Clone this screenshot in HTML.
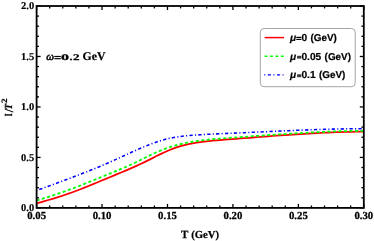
<!DOCTYPE html>
<html><head><meta charset="utf-8"><title>plot</title>
<style>
html,body{margin:0;padding:0;background:#fff;}
body{width:374px;height:241px;overflow:hidden;font-family:"Liberation Serif",serif;}
svg{display:block;will-change:transform;}
svg text{text-rendering:geometricPrecision;}
.tk text{font-family:"Liberation Serif",serif;font-weight:bold;font-size:10.75px;fill:#000;stroke:#000;stroke-width:0.25px;}
.lg text{font-family:"Liberation Sans",sans-serif;font-weight:bold;font-size:10.2px;fill:#000;stroke:#000;stroke-width:0.2px;}
</style></head><body>
<svg width="374" height="241" viewBox="0 0 374 241">
<rect x="0" y="0" width="374" height="241" fill="#fff"/>
<g fill="none" stroke-width="1.75" stroke-linecap="butt" stroke-linejoin="round">
<path d="M36.5,203.40 L40.5,202.30 L44.5,201.17 L48.5,200.01 L52.5,198.82 L56.5,197.59 L60.5,196.32 L64.5,195.00 L68.5,193.64 L72.5,192.22 L76.5,190.75 L80.5,189.22 L84.5,187.64 L88.5,186.02 L92.5,184.36 L96.5,182.69 L100.5,181.02 L104.5,179.36 L108.5,177.71 L112.5,176.07 L116.5,174.43 L120.5,172.77 L124.5,171.10 L128.5,169.40 L132.5,167.65 L136.5,165.86 L140.5,164.02 L144.5,162.10 L148.5,160.12 L152.5,158.11 L156.5,156.09 L160.5,154.12 L164.5,152.25 L168.5,150.49 L172.5,148.89 L176.5,147.44 L180.5,146.16 L184.5,145.05 L188.5,144.13 L192.5,143.36 L196.5,142.69 L200.5,142.11 L204.5,141.60 L208.5,141.14 L212.5,140.73 L216.5,140.37 L220.5,140.03 L224.5,139.71 L228.5,139.40 L232.5,139.10 L236.5,138.79 L240.5,138.48 L244.5,138.16 L248.5,137.85 L252.5,137.53 L256.5,137.22 L260.5,136.91 L264.5,136.60 L268.5,136.29 L272.5,135.99 L276.5,135.69 L280.5,135.39 L284.5,135.11 L288.5,134.82 L292.5,134.55 L296.5,134.28 L300.5,134.02 L304.5,133.77 L308.5,133.54 L312.5,133.31 L316.5,133.09 L320.5,132.89 L324.5,132.70 L328.5,132.52 L332.5,132.36 L336.5,132.21 L340.5,132.08 L344.5,131.96 L348.5,131.86 L352.5,131.78 L356.5,131.72 L360.5,131.68 L363.8,131.66" stroke="#ff0000"/>
<path d="M36.5,200.47 L40.5,199.32 L44.5,198.12 L48.5,196.87 L52.5,195.58 L56.5,194.24 L60.5,192.87 L64.5,191.45 L68.5,190.00 L72.5,188.52 L76.5,187.00 L80.5,185.45 L84.5,183.88 L88.5,182.28 L92.5,180.66 L96.5,179.04 L100.5,177.40 L104.5,175.76 L108.5,174.12 L112.5,172.48 L116.5,170.84 L120.5,169.17 L124.5,167.47 L128.5,165.71 L132.5,163.88 L136.5,161.96 L140.5,159.97 L144.5,157.96 L148.5,155.99 L152.5,154.09 L156.5,152.28 L160.5,150.58 L164.5,149.01 L168.5,147.59 L172.5,146.30 L176.5,145.15 L180.5,144.12 L184.5,143.21 L188.5,142.40 L192.5,141.68 L196.5,141.05 L200.5,140.50 L204.5,140.01 L208.5,139.58 L212.5,139.20 L216.5,138.86 L220.5,138.54 L224.5,138.25 L228.5,137.96 L232.5,137.68 L236.5,137.39 L240.5,137.11 L244.5,136.82 L248.5,136.53 L252.5,136.24 L256.5,135.96 L260.5,135.67 L264.5,135.39 L268.5,135.11 L272.5,134.83 L276.5,134.56 L280.5,134.29 L284.5,134.03 L288.5,133.77 L292.5,133.52 L296.5,133.27 L300.5,133.03 L304.5,132.81 L308.5,132.59 L312.5,132.38 L316.5,132.18 L320.5,131.99 L324.5,131.81 L328.5,131.64 L332.5,131.49 L336.5,131.35 L340.5,131.22 L344.5,131.11 L348.5,131.01 L352.5,130.93 L356.5,130.87 L360.5,130.82 L363.8,130.79" stroke="#00ff00" stroke-dasharray="3.1,2.4"/>
<path d="M36.5,190.55 L40.5,189.09 L44.5,187.63 L48.5,186.17 L52.5,184.71 L56.5,183.25 L60.5,181.78 L64.5,180.30 L68.5,178.80 L72.5,177.30 L76.5,175.78 L80.5,174.23 L84.5,172.67 L88.5,171.09 L92.5,169.47 L96.5,167.83 L100.5,166.16 L104.5,164.46 L108.5,162.72 L112.5,160.94 L116.5,159.13 L120.5,157.31 L124.5,155.47 L128.5,153.64 L132.5,151.83 L136.5,150.05 L140.5,148.31 L144.5,146.62 L148.5,144.99 L152.5,143.46 L156.5,142.02 L160.5,140.72 L164.5,139.57 L168.5,138.58 L172.5,137.75 L176.5,137.06 L180.5,136.48 L184.5,136.01 L188.5,135.61 L192.5,135.28 L196.5,134.99 L200.5,134.72 L204.5,134.48 L208.5,134.26 L212.5,134.06 L216.5,133.87 L220.5,133.70 L224.5,133.52 L228.5,133.35 L232.5,133.18 L236.5,133.00 L240.5,132.83 L244.5,132.65 L248.5,132.47 L252.5,132.28 L256.5,132.10 L260.5,131.92 L264.5,131.73 L268.5,131.55 L272.5,131.37 L276.5,131.19 L280.5,131.02 L284.5,130.84 L288.5,130.67 L292.5,130.50 L296.5,130.34 L300.5,130.18 L304.5,130.03 L308.5,129.88 L312.5,129.74 L316.5,129.60 L320.5,129.47 L324.5,129.35 L328.5,129.23 L332.5,129.13 L336.5,129.03 L340.5,128.94 L344.5,128.86 L348.5,128.79 L352.5,128.73 L356.5,128.69 L360.5,128.65 L363.8,128.63" stroke="#0000ff" stroke-width="1.55" stroke-dasharray="1.1,2.25,3.3,2.25" stroke-dashoffset="0.4"/>
</g>
<rect x="36.6" y="6.0" width="327.20" height="201.90" fill="none" stroke="#000" stroke-width="1.8"/>
<g stroke="#000" stroke-width="1.3">
<line x1="36.60" y1="207.90" x2="36.60" y2="203.90"/>
<line x1="36.60" y1="6.00" x2="36.60" y2="10.00"/>
<line x1="49.69" y1="207.90" x2="49.69" y2="205.50"/>
<line x1="49.69" y1="6.00" x2="49.69" y2="8.40"/>
<line x1="62.78" y1="207.90" x2="62.78" y2="205.50"/>
<line x1="62.78" y1="6.00" x2="62.78" y2="8.40"/>
<line x1="75.86" y1="207.90" x2="75.86" y2="205.50"/>
<line x1="75.86" y1="6.00" x2="75.86" y2="8.40"/>
<line x1="88.95" y1="207.90" x2="88.95" y2="205.50"/>
<line x1="88.95" y1="6.00" x2="88.95" y2="8.40"/>
<line x1="102.04" y1="207.90" x2="102.04" y2="203.90"/>
<line x1="102.04" y1="6.00" x2="102.04" y2="10.00"/>
<line x1="115.13" y1="207.90" x2="115.13" y2="205.50"/>
<line x1="115.13" y1="6.00" x2="115.13" y2="8.40"/>
<line x1="128.22" y1="207.90" x2="128.22" y2="205.50"/>
<line x1="128.22" y1="6.00" x2="128.22" y2="8.40"/>
<line x1="141.30" y1="207.90" x2="141.30" y2="205.50"/>
<line x1="141.30" y1="6.00" x2="141.30" y2="8.40"/>
<line x1="154.39" y1="207.90" x2="154.39" y2="205.50"/>
<line x1="154.39" y1="6.00" x2="154.39" y2="8.40"/>
<line x1="167.48" y1="207.90" x2="167.48" y2="203.90"/>
<line x1="167.48" y1="6.00" x2="167.48" y2="10.00"/>
<line x1="180.57" y1="207.90" x2="180.57" y2="205.50"/>
<line x1="180.57" y1="6.00" x2="180.57" y2="8.40"/>
<line x1="193.66" y1="207.90" x2="193.66" y2="205.50"/>
<line x1="193.66" y1="6.00" x2="193.66" y2="8.40"/>
<line x1="206.74" y1="207.90" x2="206.74" y2="205.50"/>
<line x1="206.74" y1="6.00" x2="206.74" y2="8.40"/>
<line x1="219.83" y1="207.90" x2="219.83" y2="205.50"/>
<line x1="219.83" y1="6.00" x2="219.83" y2="8.40"/>
<line x1="232.92" y1="207.90" x2="232.92" y2="203.90"/>
<line x1="232.92" y1="6.00" x2="232.92" y2="10.00"/>
<line x1="246.01" y1="207.90" x2="246.01" y2="205.50"/>
<line x1="246.01" y1="6.00" x2="246.01" y2="8.40"/>
<line x1="259.10" y1="207.90" x2="259.10" y2="205.50"/>
<line x1="259.10" y1="6.00" x2="259.10" y2="8.40"/>
<line x1="272.18" y1="207.90" x2="272.18" y2="205.50"/>
<line x1="272.18" y1="6.00" x2="272.18" y2="8.40"/>
<line x1="285.27" y1="207.90" x2="285.27" y2="205.50"/>
<line x1="285.27" y1="6.00" x2="285.27" y2="8.40"/>
<line x1="298.36" y1="207.90" x2="298.36" y2="203.90"/>
<line x1="298.36" y1="6.00" x2="298.36" y2="10.00"/>
<line x1="311.45" y1="207.90" x2="311.45" y2="205.50"/>
<line x1="311.45" y1="6.00" x2="311.45" y2="8.40"/>
<line x1="324.54" y1="207.90" x2="324.54" y2="205.50"/>
<line x1="324.54" y1="6.00" x2="324.54" y2="8.40"/>
<line x1="337.62" y1="207.90" x2="337.62" y2="205.50"/>
<line x1="337.62" y1="6.00" x2="337.62" y2="8.40"/>
<line x1="350.71" y1="207.90" x2="350.71" y2="205.50"/>
<line x1="350.71" y1="6.00" x2="350.71" y2="8.40"/>
<line x1="363.80" y1="207.90" x2="363.80" y2="203.90"/>
<line x1="363.80" y1="6.00" x2="363.80" y2="10.00"/>
<line x1="36.60" y1="207.90" x2="40.60" y2="207.90"/>
<line x1="363.80" y1="207.90" x2="359.80" y2="207.90"/>
<line x1="36.60" y1="197.81" x2="39.00" y2="197.81"/>
<line x1="363.80" y1="197.81" x2="361.40" y2="197.81"/>
<line x1="36.60" y1="187.71" x2="39.00" y2="187.71"/>
<line x1="363.80" y1="187.71" x2="361.40" y2="187.71"/>
<line x1="36.60" y1="177.62" x2="39.00" y2="177.62"/>
<line x1="363.80" y1="177.62" x2="361.40" y2="177.62"/>
<line x1="36.60" y1="167.52" x2="39.00" y2="167.52"/>
<line x1="363.80" y1="167.52" x2="361.40" y2="167.52"/>
<line x1="36.60" y1="157.43" x2="40.60" y2="157.43"/>
<line x1="363.80" y1="157.43" x2="359.80" y2="157.43"/>
<line x1="36.60" y1="147.33" x2="39.00" y2="147.33"/>
<line x1="363.80" y1="147.33" x2="361.40" y2="147.33"/>
<line x1="36.60" y1="137.24" x2="39.00" y2="137.24"/>
<line x1="363.80" y1="137.24" x2="361.40" y2="137.24"/>
<line x1="36.60" y1="127.14" x2="39.00" y2="127.14"/>
<line x1="363.80" y1="127.14" x2="361.40" y2="127.14"/>
<line x1="36.60" y1="117.05" x2="39.00" y2="117.05"/>
<line x1="363.80" y1="117.05" x2="361.40" y2="117.05"/>
<line x1="36.60" y1="106.95" x2="40.60" y2="106.95"/>
<line x1="363.80" y1="106.95" x2="359.80" y2="106.95"/>
<line x1="36.60" y1="96.85" x2="39.00" y2="96.85"/>
<line x1="363.80" y1="96.85" x2="361.40" y2="96.85"/>
<line x1="36.60" y1="86.76" x2="39.00" y2="86.76"/>
<line x1="363.80" y1="86.76" x2="361.40" y2="86.76"/>
<line x1="36.60" y1="76.66" x2="39.00" y2="76.66"/>
<line x1="363.80" y1="76.66" x2="361.40" y2="76.66"/>
<line x1="36.60" y1="66.57" x2="39.00" y2="66.57"/>
<line x1="363.80" y1="66.57" x2="361.40" y2="66.57"/>
<line x1="36.60" y1="56.47" x2="40.60" y2="56.47"/>
<line x1="363.80" y1="56.47" x2="359.80" y2="56.47"/>
<line x1="36.60" y1="46.38" x2="39.00" y2="46.38"/>
<line x1="363.80" y1="46.38" x2="361.40" y2="46.38"/>
<line x1="36.60" y1="36.28" x2="39.00" y2="36.28"/>
<line x1="363.80" y1="36.28" x2="361.40" y2="36.28"/>
<line x1="36.60" y1="26.19" x2="39.00" y2="26.19"/>
<line x1="363.80" y1="26.19" x2="361.40" y2="26.19"/>
<line x1="36.60" y1="16.09" x2="39.00" y2="16.09"/>
<line x1="363.80" y1="16.09" x2="361.40" y2="16.09"/>
<line x1="36.60" y1="6.00" x2="40.60" y2="6.00"/>
<line x1="363.80" y1="6.00" x2="359.80" y2="6.00"/>
</g>
<g class="tk">
<text x="36.60" y="219.4" text-anchor="middle">0.05</text>
<text x="102.04" y="219.4" text-anchor="middle">0.10</text>
<text x="167.48" y="219.4" text-anchor="middle">0.15</text>
<text x="232.92" y="219.4" text-anchor="middle">0.20</text>
<text x="298.36" y="219.4" text-anchor="middle">0.25</text>
<text x="363.80" y="219.4" text-anchor="middle">0.30</text>
<text x="34.2" y="210.80" text-anchor="end" style="font-size:10.5px;stroke-width:0.15px">0.0</text>
<text x="34.2" y="160.53" text-anchor="end" style="font-size:10.5px;stroke-width:0.15px">0.5</text>
<text x="34.2" y="110.15" text-anchor="end" style="font-size:10.5px;stroke-width:0.15px">1.0</text>
<text x="34.2" y="59.77" text-anchor="end" style="font-size:10.5px;stroke-width:0.15px">1.5</text>
<text x="34.2" y="9.30" text-anchor="end" style="font-size:10.5px;stroke-width:0.15px">2.0</text>
<text x="181.1" y="238" style="font-size:11px">T</text><text x="191.2" y="238" style="font-size:10.7px">(GeV)</text>
<g transform="translate(11.7,116.3) rotate(-90)">
<text transform="translate(0,0) scale(0.68,1)" style="font-size:10.8px;stroke-width:0.3px">I</text>
<text transform="translate(4.0,1.5)" style="font-size:12.2px;font-weight:normal;stroke-width:0.3px">/</text>
<text transform="translate(6.9,0) scale(0.86,1)" style="font-size:10.8px;font-style:italic;stroke-width:0.25px">T</text>
<text transform="translate(13.4,-4.7) scale(1.12,1)" style="font-size:8.2px;stroke-width:0.2px">2</text>
</g>
<text x="46.2" y="60" style="font-size:11px;font-weight:normal;font-style:italic;stroke-width:0.5px">ω</text>
<rect x="54.3" y="55.9" width="6.5" height="1.15" fill="#000"/><rect x="54.3" y="58.1" width="6.5" height="1.15" fill="#000"/>
<text x="60.9" y="60.1" style="font-size:8.6px" textLength="8.0" lengthAdjust="spacingAndGlyphs">0</text>
<text x="69.6" y="60.1" style="font-size:8.6px" textLength="3.0" lengthAdjust="spacingAndGlyphs">.</text>
<text x="73.1" y="60.1" style="font-size:8.6px" textLength="6.6" lengthAdjust="spacingAndGlyphs">2</text>
<text x="82.5" y="60.1" style="font-size:11.8px;stroke-width:0.2px">GeV</text>
</g>
<g class="lg">
<rect x="260.3" y="28.5" width="94.9" height="58.2" rx="3.8" ry="3.8" fill="#fff" stroke="#a6a6a6" stroke-width="1"/>
<line x1="264.7" y1="37.6" x2="284.0" y2="37.6" stroke="#ff0000" stroke-width="1.5"/>
<line x1="264.5" y1="56.3" x2="283.9" y2="56.3" stroke="#00ff00" stroke-width="1.5" stroke-dasharray="2.9,2.55"/>
<line x1="264.2" y1="74.9" x2="283.6" y2="74.9" stroke="#0000ff" stroke-width="1.4" stroke-dasharray="1.1,2.45,3.2,2.45"/>
<text x="290.1" y="40.8" font-style="italic">μ</text><rect x="296.3" y="36.80" width="5.1" height="1.2" fill="#000"/><rect x="296.3" y="38.80" width="5.1" height="1.2" fill="#000"/><text x="301.4" y="40.8">0</text><text x="310.5" y="40.8" style="font-size:9.9px">(GeV)</text>
<text x="290.1" y="59.8" font-style="italic">μ</text><rect x="297.1" y="55.8" width="4.2" height="2.8" fill="#3a3a3a"/><text x="301.4" y="59.8">0.05</text><text x="324.6" y="59.8" style="font-size:9.9px">(GeV)</text>
<text x="290.1" y="78.4" font-style="italic">μ</text><rect x="297.1" y="74.3" width="4.2" height="2.9" fill="#3a3a3a"/><text x="301.4" y="78.4">0.1</text><text x="319.0" y="78.4" style="font-size:9.9px">(GeV)</text>
</g>
</svg>
</body></html>
